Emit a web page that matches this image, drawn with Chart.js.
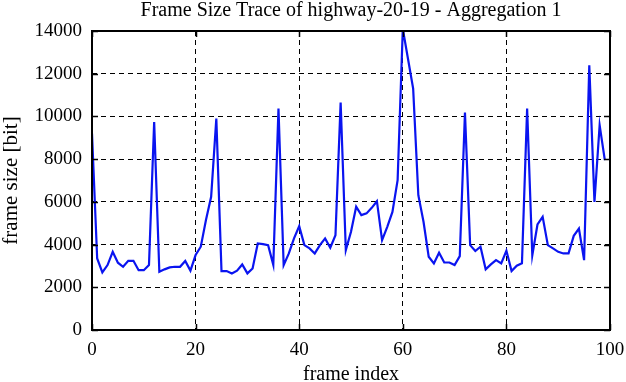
<!DOCTYPE html>
<html>
<head>
<meta charset="utf-8">
<script src="https://cdn.jsdelivr.net/npm/chart.js@4.4.0/dist/chart.umd.min.js"></script>
<style>
  html, body { margin: 0; padding: 0; background: #ffffff; }
  #wrap { width: 626px; height: 382px; }
</style>
</head>
<body>
<div id="wrap"><canvas id="c" width="626" height="382"></canvas></div>
<script>
// ---- data ----
const frameIndex = [
  0,1,2,3,4,5,6,7,8,9,10,11,12,13,14,15,16,17,18,19,
  20,21,22,23,24,25,26,27,28,29,30,31,32,33,34,35,36,37,38,39,
  40,41,42,43,44,45,46,47,48,49,50,51,52,53,54,55,56,57,58,59,
  60,61,62,63,64,65,66,67,68,69,70,71,72,73,74,75,76,77,78,79,
  80,81,82,83,84,85,86,87,88,89,90,91,92,93,94,95,96,97,98,99
];
const frameSize = [
  9200,3350,2700,3040,3660,3150,2960,3240,3240,2800,
  2800,3040,9740,2730,2840,2930,2960,2960,3230,2780,
  3510,3900,5150,6240,9900,2760,2760,2650,2780,3070,
  2650,2880,4050,4020,3975,3050,10370,3040,3585,4290,
  4860,3975,3820,3585,3975,4290,3850,4440,10650,3740,
  4600,5770,5380,5460,5720,6030,4210,4830,5530,7020,
  14100,12700,11300,6310,5070,3430,3120,3620,3160,3160,
  3040,3460,10180,3975,3700,3900,2840,3070,3270,3120,
  3710,2760,3010,3120,10370,3500,4940,5300,3975,3820,
  3660,3585,3585,4410,4750,3270,12390,6000,9590,7950
];
const xTicks = [0, 20, 40, 60, 80, 100];
const yTicks = [0, 2000, 4000, 6000, 8000, 10000, 12000, 14000];
const titleText = 'Frame Size Trace of highway-20-19 - Aggregation 1';
const xTitle = 'frame index';
const yTitle = 'frame size [bit]';

const points = frameIndex.map((f, i) => ({ x: f, y: frameSize[i] }));

const SERIF = '"Liberation Serif", "DejaVu Serif", serif';

const framePlugin = {
  id: 'frameBox',
  afterDraw(chart) {
    const { ctx, chartArea: a, scales } = chart;
    ctx.save();
    ctx.strokeStyle = '#000';
    ctx.lineWidth = 1.5;
    ctx.setLineDash([]);
    const tl = 6;
    ctx.beginPath();
    xTicks.forEach(v => {
      const px = Math.round(scales.x.getPixelForValue(v)) + 0.5;
      ctx.moveTo(px, a.bottom); ctx.lineTo(px, a.bottom - tl);
      ctx.moveTo(px, a.top); ctx.lineTo(px, a.top + tl);
    });
    yTicks.forEach(v => {
      const py = Math.round(scales.y.getPixelForValue(v)) + 0.5;
      ctx.moveTo(a.left, py); ctx.lineTo(a.left + tl, py);
      ctx.moveTo(a.right, py); ctx.lineTo(a.right - tl, py);
    });
    ctx.stroke();
    ctx.lineWidth = 2;
    ctx.strokeRect(a.left, a.top, a.right - a.left, a.bottom - a.top);
    ctx.restore();
  }
};

new Chart(document.getElementById('c'), {
  type: 'line',
  data: {
    datasets: [{
      data: points,
      borderColor: '#0a14f0',
      backgroundColor: '#0a14f0',
      borderWidth: 2.2,
      pointRadius: 0,
      tension: 0,
      fill: false
    }]
  },
  options: {
    responsive: false,
    animation: false,
    devicePixelRatio: 1,
    layout: { padding: { left: 0, right: 16, top: 0, bottom: 0 } },
    plugins: {
      legend: { display: false },
      tooltip: { enabled: false },
      title: {
        display: true,
        fullSize: false,
        text: titleText,
        color: '#000',
        font: { family: SERIF, size: 20, weight: 'normal', lineHeight: 1 },
        padding: { top: 0.5, bottom: 10.5 }
      }
    },
    scales: {
      x: {
        type: 'linear',
        min: 0, max: 100,
        afterBuildTicks(s) { s.ticks = xTicks.map(v => ({ value: v })); },
        afterFit(s) { s.height = 52; s.paddingRight = 0; s.paddingLeft = 0; },
        ticks: {
          color: '#000',
          font: { family: SERIF, size: 19 },
          padding: 9,
          maxRotation: 0,
          callback: v => String(v)
        },
        grid: { color: '#000', lineWidth: 1, drawTicks: false, tickLength: 0 },
        border: { display: false, dash: [5, 4] },
        title: {
          display: true, text: xTitle, color: '#000',
          font: { family: SERIF, size: 20 },
          padding: { top: 0, bottom: -4.5 }
        }
      },
      y: {
        min: 0, max: 14000,
        afterBuildTicks(s) { s.ticks = yTicks.map(v => ({ value: v })); },
        afterFit(s) { s.width = 92; s.paddingTop = 0; s.paddingBottom = 0; },
        ticks: {
          color: '#000',
          font: { family: SERIF, size: 19 },
          padding: 10,
          callback: v => String(v)
        },
        grid: { color: '#000', lineWidth: 1, drawTicks: false, tickLength: 0 },
        border: { display: false, dash: [5, 4] },
        title: {
          display: true, text: yTitle, color: '#000',
          font: { family: SERIF, size: 21 },
          padding: { top: -1, bottom: 0 }
        }
      }
    }
  },
  plugins: [framePlugin]
});
</script>
</body>
</html>
